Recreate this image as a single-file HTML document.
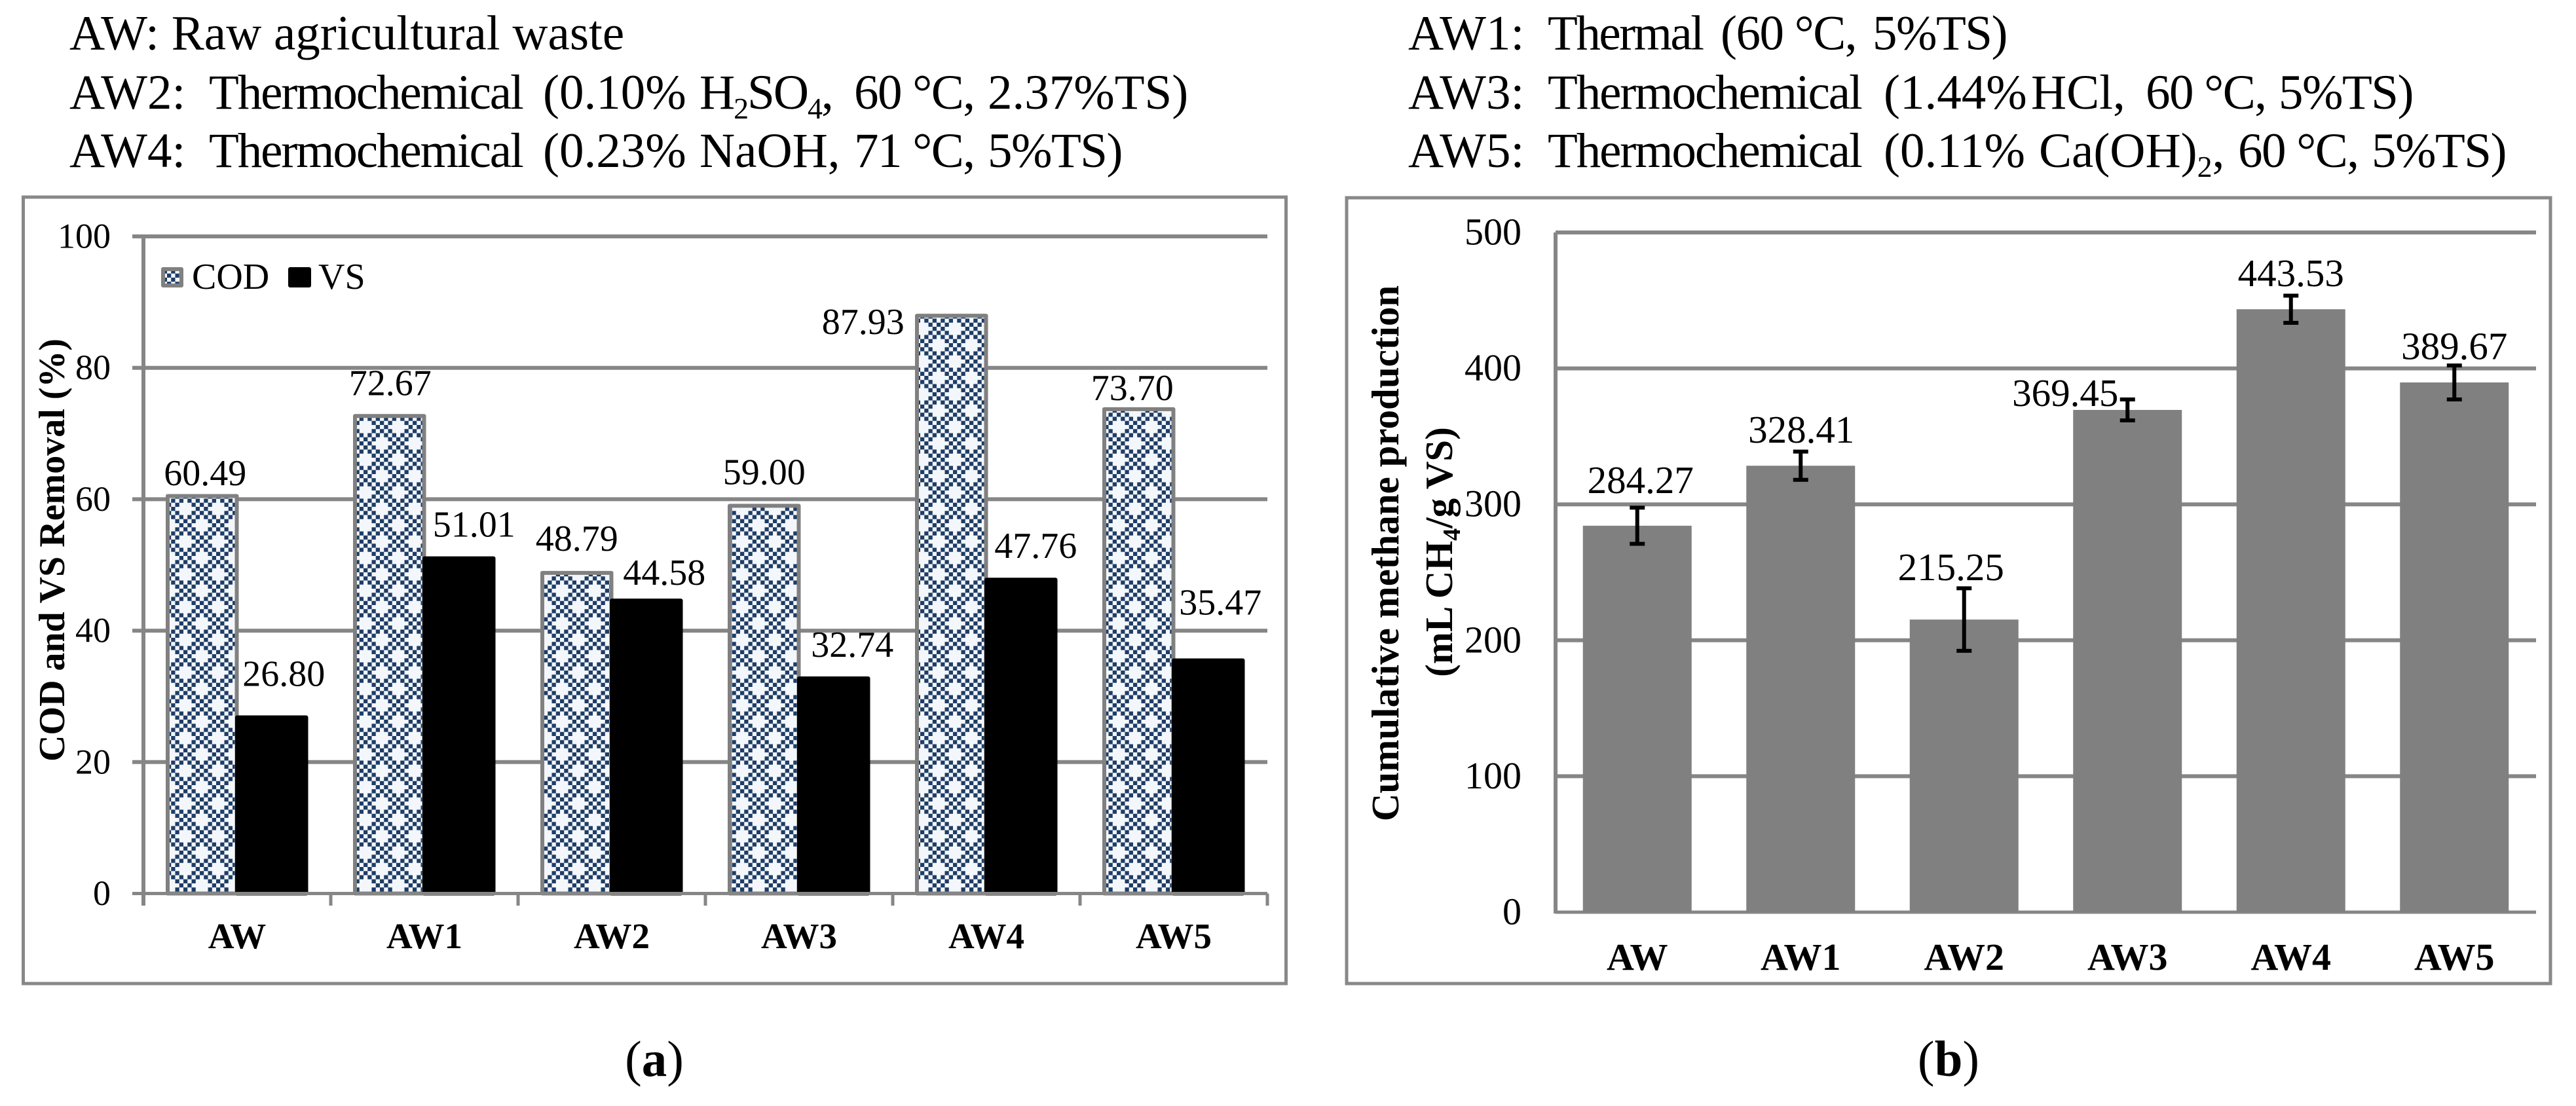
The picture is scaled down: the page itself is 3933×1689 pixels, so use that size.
<!DOCTYPE html>
<html lang="en">
<head>
<meta charset="utf-8">
<title>COD and VS removal, and cumulative methane production</title>
<style>
html,body{margin:0;padding:0;background:#fff;width:3933px;height:1689px;overflow:hidden}
svg{display:block}
text{font-family:"Liberation Serif",serif;fill:#000}
.head{font-size:75px}
.sub{font-size:46px}
.b{font-weight:bold}
.w{letter-spacing:-2.1px}
.t{letter-spacing:-1.5px}
.c{letter-spacing:-2px}
</style>
</head>
<body>
<svg id="figure" xmlns="http://www.w3.org/2000/svg" width="3933" height="1689" viewBox="0 0 3933 1689">
  <defs>
    <pattern id="checks" patternUnits="userSpaceOnUse" x="280" y="774" width="50" height="50">
      <rect width="50" height="50" fill="#f3f6fa"></rect>
      <path id="checks-path" fill="#1e3d66" d=""></path>
    </pattern>
  </defs>
  <rect width="3933" height="1689" fill="#fff"></rect>

  <g>
    <text class="head" x="106" y="75.5">AW: Raw agricultural waste</text>
    <text class="head" y="166"><tspan x="106">AW2:</tspan><tspan class="w" x="319">Thermochemical</tspan><tspan x="829">(0.10%</tspan><tspan class="c" x="1068">H</tspan><tspan class="sub c" dy="15">2</tspan><tspan class="c" dy="-15">SO</tspan><tspan class="sub c" dy="15">4</tspan><tspan class="c" dy="-15">,</tspan><tspan class="t" x="1304">60 °C,</tspan><tspan x="1508">2.37%TS)</tspan></text>
    <text class="head" y="255"><tspan x="106">AW4:</tspan><tspan class="w" x="319">Thermochemical</tspan><tspan x="829">(0.23%</tspan><tspan x="1068">NaOH,</tspan><tspan class="t" x="1304">71 °C,</tspan><tspan class="t" x="1508">5%TS)</tspan></text>
  </g>
  <g>
    <text class="head" y="75.5"><tspan x="2150">AW1:</tspan><tspan style="letter-spacing:-2.5px" x="2363">Thermal</tspan><tspan class="t" x="2627">(60 °C,</tspan><tspan class="t" x="2859">5%TS)</tspan></text>
    <text class="head" y="166"><tspan x="2150">AW3:</tspan><tspan class="w" x="2363">Thermochemical</tspan><tspan x="2876">(1.44%</tspan><tspan x="3101">HCl,</tspan><tspan class="t" x="3276">60 °C,</tspan><tspan class="t" x="3479">5%TS)</tspan></text>
    <text class="head" y="255"><tspan x="2150">AW5:</tspan><tspan class="w" x="2363">Thermochemical</tspan><tspan x="2876">(0.11%</tspan><tspan x="3113">Ca(OH)</tspan><tspan class="sub" dy="15">2</tspan><tspan dy="-15">,</tspan><tspan class="t" x="3417">60 °C,</tspan><tspan class="t" x="3621">5%TS)</tspan></text>
  </g>

  <rect x="35.5" y="301" width="1928" height="1201" fill="#fff" stroke="#888" stroke-width="5"></rect>
  <rect x="2056" y="302" width="1838" height="1200" fill="#fff" stroke="#888" stroke-width="5"></rect>

  <g id="chart-a"></g>
  <g id="chart-b"></g>

  <text class="b" font-size="56" text-anchor="middle" transform="translate(98 840) rotate(-90)">COD and VS Removal (%)</text>
  <text class="b" font-size="59" text-anchor="middle" transform="translate(2135 845) rotate(-90)">Cumulative methane production</text>
  <text class="b" font-size="59" text-anchor="middle" transform="translate(2217 843) rotate(-90)">(mL CH<tspan font-size="38" dy="12">4</tspan><tspan dy="-12">/g VS)</tspan></text>

  <g>
    <g>
      <rect x="249" y="411" width="28" height="25" fill="url(#checks)" stroke="#808080" stroke-width="6" stroke-linejoin="round"></rect>
      <text x="293" y="441" font-size="56">COD</text>
    </g>
    <g>
      <rect x="443" y="411" width="29" height="25" fill="#000" stroke="#000" stroke-width="6" stroke-linejoin="round"></rect>
      <text x="486" y="441" font-size="56">VS</text>
    </g>
  </g>

  <text x="999" y="1643" font-size="77" text-anchor="middle">(<tspan class="b">a</tspan>)</text>
  <text x="2975" y="1643" font-size="77" text-anchor="middle">(<tspan class="b">b</tspan>)</text>
</svg>

<script>
// ---- chart data ----
const categories = ["AW", "AW1", "AW2", "AW3", "AW4", "AW5"];
const codValues = [60.49, 72.67, 48.79, 59.00, 87.93, 73.70];
const vsValues = [26.80, 51.01, 44.58, 32.74, 47.76, 35.47];
const removalTicks = [0, 20, 40, 60, 80, 100];
const methaneValues = [284.27, 328.41, 215.25, 369.45, 443.53, 389.67];
const methaneErrors = [13.3, 10.4, 23.0, 7.7, 10.0, 12.5];
const methaneTicks = [0, 100, 200, 300, 400, 500];

// ---- manual data-label nudges (layout, relative to each bar top/centre) ----
const codNudge = [[4.5,-16.5],[1,-32],[0,-34],[0,-33],[-135,28],[-10,-14]];
const vsNudge = [[18.5,-48],[23,-33],[27.5,-24],[28.5,-33],[22.5,-33],[18.5,-70]];
const methaneNudge = [[5,-50],[1,-35],[-20,-60],[-95,-6],[0,-35],[0,-35.5]];

const NS = "http://www.w3.org/2000/svg";
const GRID = "#868686";
function make(parent, tag, attrs, txt) {
  const el = document.createElementNS(NS, tag);
  for (const k in attrs) el.setAttribute(k, attrs[k]);
  if (txt !== undefined) el.textContent = txt;
  parent.appendChild(el);
  return el;
}

// checker tile: 8x8 cells, white plus shapes at cell (0,0) and (4,4)
(function () {
  const c = 6.25; let d = "";
  const isPlus = (i, j, a, b) => {
    const di = Math.min((i - a + 8) % 8, (a - i + 8) % 8);
    const dj = Math.min((j - b + 8) % 8, (b - j + 8) % 8);
    return di + dj <= 1;
  };
  for (let i = 0; i < 8; i++) for (let j = 0; j < 8; j++) {
    if ((i + j) % 2 === 1 && !isPlus(i, j, 0, 0) && !isPlus(i, j, 4, 4)) {
      d += "M" + i * c + " " + j * c + "h" + c + "v" + c + "h" + (-c) + "z";
    }
  }
  document.getElementById("checks-path").setAttribute("d", d);
})();

// ---- chart A ----
(function () {
  const g = document.getElementById("chart-a");
  const x0 = 219, x1 = 1935, y0 = 1364.5, yTop = 361, maxV = 100;
  const catW = (x1 - x0) / categories.length;
  const yA = v => y0 - (v / maxV) * (y0 - yTop);
  const xCod = i => x0 + catW * i + 37;
  const xVs = i => x0 + catW * i + 143;
  const barW = 105.5;

  removalTicks.forEach(t => {
    if (t !== 0) {
      const line = make(g, "line", { x1: 202, x2: x1, y1: yA(t), y2: yA(t), stroke: GRID, "stroke-width": 6 });
      
      
    }
    const label = make(g, "text", { x: 169, y: yA(t) + 17.5, "font-size": 54, "text-anchor": "end" }, String(t));
    
    
  });

  categories.forEach((c, i) => {
    const cod = make(g, "rect", { x: xCod(i), y: yA(codValues[i]), width: barW, height: y0 - yA(codValues[i]), fill: "url(#checks)", stroke: "#808080", "stroke-width": 6, "stroke-linejoin": "round" });
    
    
    const vs = make(g, "rect", { x: xVs(i), y: yA(vsValues[i]), width: barW, height: y0 - yA(vsValues[i]), fill: "#000", stroke: "#000", "stroke-width": 6, "stroke-linejoin": "round" });
    
    
  });

  const axisY = make(g, "line", { x1: x0, x2: x0, y1: yTop - 3, y2: 1383, stroke: GRID, "stroke-width": 6 });
  
  
  const axisX = make(g, "line", { x1: 202, x2: x1, y1: y0, y2: y0, stroke: GRID, "stroke-width": 5 });
  
  

  for (let i = 1; i <= categories.length; i++) {
    const tick = make(g, "line", { x1: x0 + catW * i, x2: x0 + catW * i, y1: y0, y2: 1383, stroke: GRID, "stroke-width": 5 });
    
    
  }

  categories.forEach((c, i) => {
    const cat = make(g, "text", { x: x0 + catW * (i + 0.5), y: 1448, "font-size": 55, "font-weight": "bold", "text-anchor": "middle" }, c);
    
    

    const codLabel = make(g, "text", { x: xCod(i) + barW / 2 + codNudge[i][0], y: yA(codValues[i]) + codNudge[i][1], "font-size": 56, "text-anchor": "middle" }, codValues[i].toFixed(2));
    
    

    const vsLabel = make(g, "text", { x: xVs(i) + barW / 2 + vsNudge[i][0], y: yA(vsValues[i]) + vsNudge[i][1], "font-size": 56, "text-anchor": "middle" }, vsValues[i].toFixed(2));
    
    
  });
})();

// ---- chart B ----
(function () {
  const g = document.getElementById("chart-b");
  const x0 = 2375, x1 = 3872, y0 = 1393, yTop = 355, maxV = 500;
  const catW = (x1 - x0) / categories.length;
  const yB = v => y0 - (v / maxV) * (y0 - yTop);
  const xC = i => x0 + catW * (i + 0.5);
  const barW = 166;

  methaneTicks.forEach(t => {
    const line = make(g, "line", { x1: x0, x2: x1, y1: yB(t), y2: yB(t), stroke: GRID, "stroke-width": t === 0 ? 5 : 6 });
    
    
    const label = make(g, "text", { x: 2323, y: yB(t) + 18.5, "font-size": 58, "text-anchor": "end" }, String(t));
    
    
  });

  const axisY = make(g, "line", { x1: x0, x2: x0, y1: yTop, y2: y0 + 2, stroke: GRID, "stroke-width": 6 });
  
  

  categories.forEach((c, i) => {
    const bar = make(g, "rect", { x: xC(i) - barW / 2, y: yB(methaneValues[i]), width: barW, height: y0 - yB(methaneValues[i]), fill: "#808080" });
    
    

    const hi = yB(methaneValues[i] + methaneErrors[i]);
    const lo = yB(methaneValues[i] - methaneErrors[i]);
    const stem = make(g, "line", { x1: xC(i), x2: xC(i), y1: hi, y2: lo, stroke: "#000", "stroke-width": 6 });
    
    
    const capTop = make(g, "line", { x1: xC(i) - 11.5, x2: xC(i) + 11.5, y1: hi, y2: hi, stroke: "#000", "stroke-width": 6 });
    
    
    const capBottom = make(g, "line", { x1: xC(i) - 11.5, x2: xC(i) + 11.5, y1: lo, y2: lo, stroke: "#000", "stroke-width": 6 });
    
    

    const cat = make(g, "text", { x: xC(i), y: 1481, "font-size": 58, "font-weight": "bold", "text-anchor": "middle" }, c);
    
    

    const val = make(g, "text", { x: xC(i) + methaneNudge[i][0], y: yB(methaneValues[i]) + methaneNudge[i][1], "font-size": 59, "text-anchor": "middle" }, methaneValues[i].toFixed(2));
    
    
  });
})();
</script>
</body>
</html>
